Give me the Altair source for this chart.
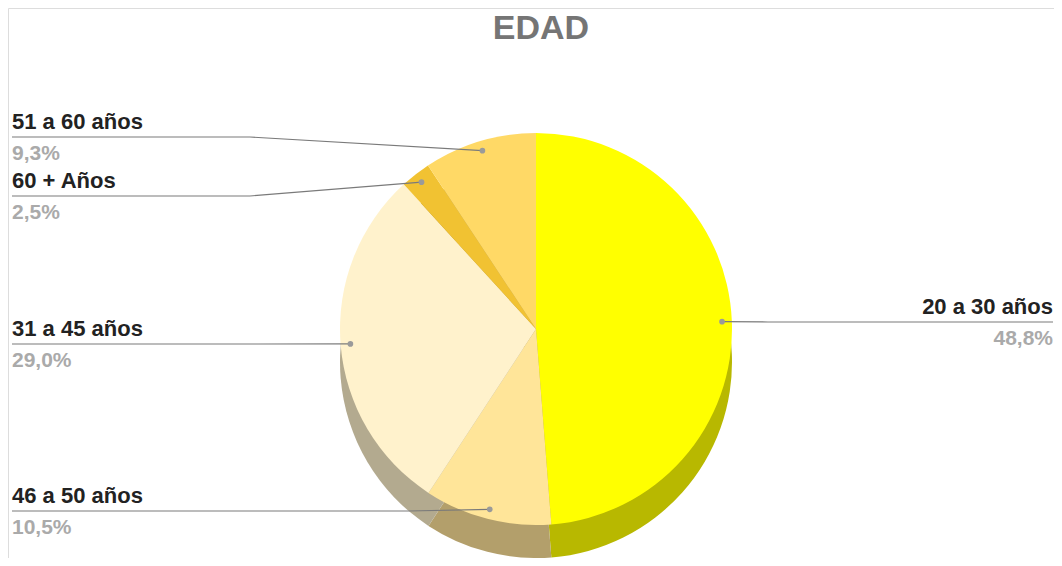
import altair as alt
import pandas as pd

# ---- data ----
labels = ["20 a 30 años", "46 a 50 años", "31 a 45 años", "60 + Años", "51 a 60 años"]
values = [48.8, 10.5, 29.0, 2.5, 9.3]
pct_labels = [f"{v:.1f}%".replace(".", ",") for v in values]

# ---- styles ----
top_colors = ["#ffff00", "#ffe599", "#fff2cc", "#f1c232", "#ffd966"]
side_colors = ["#b8b800", "#b39f6b", "#b3aa8f", "#a98822", "#b39848"]
FONT = "Liberation Sans"

# ---- layout (pixels inside the plot area) ----
W, H = 1046, 550
CX, CY, R, DEPTH = 528, 321, 196, 33
RD = R * 0.95
line_y = [314, 503, 336, 188, 129]
elbow_x = [760, 400, 250, 242, 242]
text_x = [1045, 4, 4, 4, 4]
side = ["right", "left", "left", "left", "left"]

df = pd.DataFrame({
    "idx": list(range(len(labels))),
    "label": labels,
    "value": values,
    "pct": pct_labels,
    "line_y": line_y,
    "elbow_x": elbow_x,
    "text_x": text_x,
    "side": side,
})

base = (
    alt.Chart(df)
    .transform_window(cum="sum(value)", sort=[alt.SortField("idx")], frame=[None, 0])
    .transform_joinaggregate(total="sum(value)")
    .transform_calculate(mid="2*PI*(datum.cum - datum.value/2)/datum.total")
    .transform_calculate(dotX=f"{CX} + {RD}*sin(datum.mid)")
    .transform_calculate(dotY=f"{CY} - {RD}*cos(datum.mid)")
)

theta = alt.Theta("value:Q", stack=True)
order = alt.Order("idx:Q", sort="ascending")

side_arcs = base.mark_arc(radius=R, x=CX, y=CY + DEPTH).encode(
    theta=theta, order=order,
    color=alt.Color("label:N", scale=alt.Scale(domain=labels, range=side_colors), legend=None),
)
top_arcs = base.mark_arc(radius=R, x=CX, y=CY).encode(
    theta=theta, order=order,
    color=alt.Color("label:N", scale=alt.Scale(domain=labels, range=top_colors), legend=None),
)

px = lambda f: alt.X(f, scale=None, axis=None)
py = lambda f: alt.Y(f, scale=None, axis=None)

rule_h = base.mark_rule(color="#7a7a7a", strokeWidth=1.2).encode(
    x=px("text_x:Q"), x2="elbow_x:Q", y=py("line_y:Q")
)
rule_d = base.mark_rule(color="#7a7a7a", strokeWidth=1.2).encode(
    x=px("elbow_x:Q"), x2="dotX:Q", y=py("line_y:Q"), y2="dotY:Q"
)
dots = base.mark_circle(size=32, color="#9a9a9a", opacity=1).encode(
    x=px("dotX:Q"), y=py("dotY:Q")
)

def texts(which, align):
    b = base.transform_filter(f"datum.side == '{which}'")
    name = b.mark_text(align=align, baseline="alphabetic", dy=-8, font=FONT,
                       fontSize=22, fontWeight="bold", color="#222222").encode(
        x=px("text_x:Q"), y=py("line_y:Q"), text="label:N")
    pct = b.mark_text(align=align, baseline="alphabetic", dy=23, font=FONT,
                      fontSize=21, fontWeight="bold", color="#aaaaaa").encode(
        x=px("text_x:Q"), y=py("line_y:Q"), text="pct:N")
    return name + pct

title = alt.Chart(pd.DataFrame({"t": ["EDAD"]})).mark_text(
    align="center", baseline="alphabetic", font=FONT, fontSize=34,
    fontWeight="bold", color="#757575"
).encode(x=alt.value(533), y=alt.value(31), text="t:N")

chart = (
    alt.layer(side_arcs, top_arcs, rule_h, rule_d, dots,
              texts("left", "left"), texts("right", "right"), title)
    .resolve_scale(color="independent")
    .properties(width=W, height=H, padding=0,
                autosize=alt.AutoSizeParams(type="none"))
    .configure_view(stroke="transparent", strokeWidth=0)
    .configure_axis(domain=False, grid=False, ticks=False, labels=False)
    .configure(background="white")
)

chart.save("out.html", embed_options={"renderer": "svg", "actions": False})
